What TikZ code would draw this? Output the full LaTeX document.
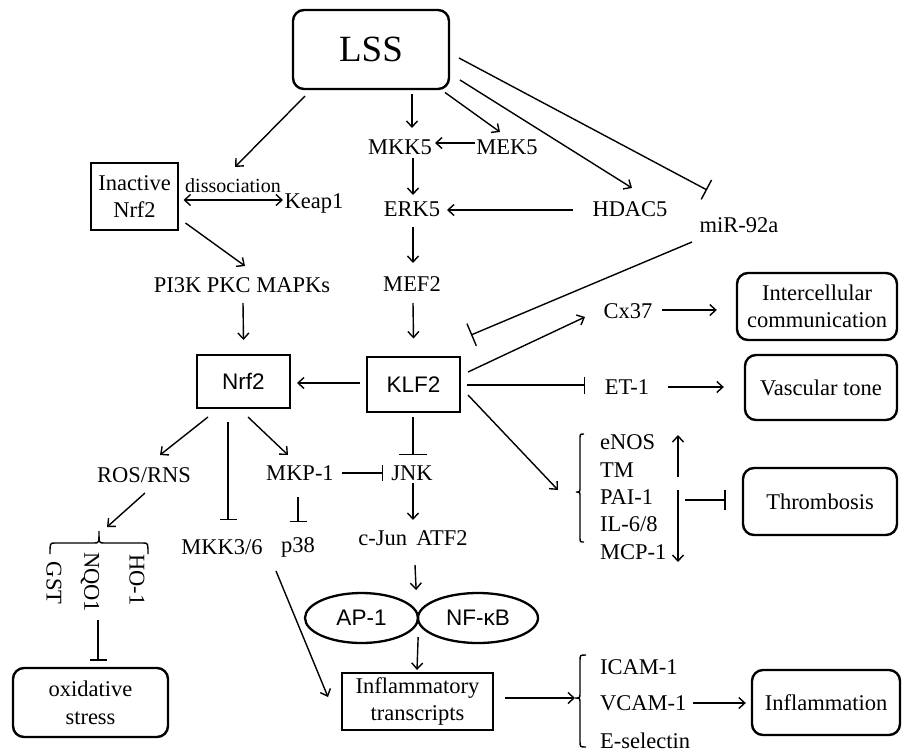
\documentclass[tikz,border=0pt]{standalone}
\usepackage{fontspec}
\setmainfont{Liberation Serif}
\newfontfamily\arialf{Liberation Sans}
\usetikzlibrary{arrows.meta,calc,shapes.geometric}
\begin{document}
\begin{tikzpicture}[x=1pt,y=-1pt,
  every node/.style={font=\fontsize{22.5}{27}\selectfont, inner sep=0pt},
  lbl/.style={inner sep=3pt},
  rbox/.style={draw, line width=2.4pt, rounded corners=11pt, align=center},
  sbox/.style={draw, line width=2.4pt, align=center},
  sans/.style={font=\arialf\fontsize{22.5}{27}\selectfont},
  ell/.style={draw, ellipse, line width=2.3pt, sans},
  ln/.style={line width=1.4pt},
  arr/.style={ln, -{Straight Barb[length=6pt,width=11pt]}},
  darr/.style={ln, {Straight Barb[length=6pt,width=11pt]}-{Straight Barb[length=6pt,width=11pt]}},
  bar/.style={ln, -{Bar[width=17pt]}},
]
\useasboundingbox (0,0) rectangle (902,753);

% ---- nodes ----
\node[rbox, minimum width=156pt, minimum height=79pt, font=\fontsize{37}{40}\selectfont] (lss) at (371,49.5) {LSS};
\node[lbl] (mkk5) at (400,147) {MKK5};
\node[lbl] (mek5) at (507,147) {MEK5};
\node[lbl] (erk5) at (412,209) {ERK5};
\node[lbl] (hdac5) at (630,209) {HDAC5};
\node[lbl] (mir) at (739,225) {miR-92a};
\node[lbl] (mef2) at (412,284) {MEF2};
\node[sbox, minimum width=87pt, minimum height=67pt] (inrf2) at (134.5,196.5) {Inactive\\Nrf2};
\node[lbl, font=\fontsize{20}{24}\selectfont] (dis) at (233,186) {dissociation};
\node[lbl] (keap1) at (314,203) {Keap1};
\node[lbl] (pi3k) at (242,285) {PI3K PKC MAPKs};
\node[sbox, sans, minimum width=93pt, minimum height=53pt] (nrf2) at (243.5,381.5) {Nrf2};
\node[sbox, sans, minimum width=93pt, minimum height=55pt] (klf2) at (413.5,384.5) {KLF2};
\node[lbl] (cx37) at (628,311) {Cx37};
\node[rbox, minimum width=160pt, minimum height=67pt] (inter) at (817,306.5) {Intercellular\\communication};
\node[lbl] (et1) at (627,387) {ET-1};
\node[rbox, minimum width=152pt, minimum height=65pt] (vasc) at (821,387.5) {Vascular tone};
\node[rbox, minimum width=154pt, minimum height=67pt] (thromb) at (820,501.5) {Thrombosis};
\node[lbl, anchor=west] (enos) at (597,442) {eNOS};
\node[lbl, anchor=west] (tm) at (597,470) {TM};
\node[lbl, anchor=west] (pai1) at (597,497) {PAI-1};
\node[lbl, anchor=west] (il68) at (597,524) {IL-6/8};
\node[lbl, anchor=west] (mcp1) at (597,552) {MCP-1};
\node[lbl] (ros) at (144,475) {ROS/RNS};
\node[lbl] (mkp1) at (300,473) {MKP-1};
\node[lbl] (jnk) at (412,473) {JNK};
\node[lbl] (mkk36) at (222,547) {MKK3/6};
\node[lbl] (p38) at (298,547) {p38};
\node[lbl] (cjun) at (413,538) {c-Jun\, ATF2};
\node[ell, minimum width=113pt, minimum height=50pt] (ap1) at (361.5,618) {AP-1};
\node[ell, minimum width=120pt, minimum height=50pt] (nfkb) at (478,618) {NF-κB};
\node[sbox, minimum width=151pt, minimum height=57pt] (infl) at (417.5,701.5) {Inflammatory\\transcripts};
\node[lbl, anchor=west] (icam) at (597,667) {ICAM-1};
\node[lbl, anchor=west] (vcam) at (597,703) {VCAM-1};
\node[lbl, anchor=west] (esel) at (597,741) {E-selectin};
\node[rbox, minimum width=148pt, minimum height=65pt] (inflam) at (826,702.5) {Inflammation};
\node[lbl, rotate=-90] (gst) at (54,583) {GST};
\node[lbl, rotate=-90] (nqo1) at (90,582) {NQO1};
\node[lbl, rotate=-90] (ho1) at (137,580) {HO-1};
\node[rbox, minimum width=155pt, minimum height=69pt, font=\fontsize{22.5}{28}\selectfont] (oxid) at (90.5,702.5) {oxidative\\stress};

\coordinate (b1) at (576,492);
\coordinate (b2) at (575,698);
\coordinate (b3) at (99,531);
\coordinate (ud) at (678,477);
\coordinate (dd) at (678,490);

% ---- connectors ----
\draw[arr] ($(lss)+(-66,46.5)$) -- ($(dis)+(2,-19)$);
\draw[arr] ($(lss)+(41,44)$) -- ($(mkk5)+(12,-19)$);
\draw[arr] ($(lss)+(74,43)$) -- ($(mek5)+(-7,-15)$);
\draw[arr] ($(lss)+(89,30.5)$) -- ($(hdac5)+(2,-21)$);
\draw[ln, -{Bar[width=22pt]}] ($(lss)+(88,8.5)$) -- ($(mir)+(-32,-35)$);
\draw[arr] ($(mek5)+(-32,-4)$) -- ($(mkk5)+(35,-4)$);
\draw[arr] ($(mkk5)+(13,11)$) -- ($(erk5)+(1,-14)$);
\draw[arr] ($(hdac5)+(-57,1)$) -- ($(erk5)+(35,1)$);
\draw[arr] ($(erk5)+(1,18)$) -- ($(mef2)+(1,-21)$);
\draw[arr] ($(mef2)+(1,19)$) -- ($(klf2)+(0,-46)$);
\draw[darr] ($(inrf2)+(49,3.5)$) -- ($(keap1)+(-31,-3)$);
\draw[arr] ($(inrf2)+(51,26.5)$) -- ($(pi3k)+(3,-19)$);
\draw[arr] ($(pi3k)+(1,18)$) -- ($(nrf2)+(0,-41.5)$);
\draw[arr] ($(klf2)+(-53.5,-1.5)$) -- ($(nrf2)+(53.5,1.5)$);
\draw[ln, -{Bar[width=24pt]}] ($(mir)+(-47,17)$) -- ($(klf2)+(57.5,-49.5)$);
\draw[arr] ($(klf2)+(54.5,-12.5)$) -- ($(cx37)+(-43,6)$);
\draw[arr] ($(cx37)+(34,-1)$) -- ($(inter.west)+(-19,3.5)$);
\draw[bar] ($(klf2)+(53.5,0.5)$) -- ($(et1)+(-42,-2)$);
\draw[arr] ($(et1)+(41,0)$) -- ($(vasc.west)+(-20,-0.5)$);
\draw[arr] ($(klf2)+(54.5,10.5)$) -- ($(b1)+(-18,-2)$);
\draw[arr] (ud) -- ($(ud |- enos)+(0,-7)$);
\draw[arr] (dd) -- ($(dd |- mcp1)+(0,10)$);
\draw[ln, -{Bar[width=20pt]}] ($(dd)+(7,10)$) -- ($(thromb.west)+(-16,-1.5)$);
\draw[arr] ($(nrf2)+(-35.5,35.5)$) -- ($(ros)+(16,-20)$);
\draw[bar] ($(nrf2)+(-15.5,40.5)$) -- ($(mkk36)+(6,-27)$);
\draw[arr] ($(nrf2)+(4.5,35.5)$) -- ($(mkp1)+(-12,-18)$);
\draw[ln, -{Bar[width=16pt]}] ($(mkp1)+(42,0)$) -- ($(jnk)+(-29,0)$);
\draw[ln, -{Bar[width=28pt]}] ($(klf2)+(-0.5,32.5)$) -- ($(jnk)+(1,-18)$);
\draw[bar] ($(mkp1)+(-2,24)$) -- ($(p38)+(0,-25)$);
\draw[arr] ($(jnk)+(1,10)$) -- ($(cjun)+(0,-18)$);
\draw[arr] ($(cjun)+(2,27)$) -- ($(ap1.east)+(-3,-28)$);
\draw[arr] ($(ap1.east)+(-1,19)$) -- ($(infl)+(-0.5,-31.5)$);
\draw[arr] ($(mkk36)+(54,24)$) -- ($(infl)+(-89.5,-4.5)$);
\draw[arr] ($(infl)+(87.5,-3.5)$) -- (b2);
\draw[arr] ($(vcam.east)+(3,0)$) -- ($(inflam.west)+(-5,0.5)$);
\draw[arr] ($(ros)+(1,18)$) -- ($(b3)+(8,-4)$);
\draw[bar] ($(nqo1)+(8,38)$) -- ($(oxid.north)+(7.5,-6)$);

% ---- brackets ----
\draw[ln] ($(b1)+(8,-58)$) .. controls ($(b1)+(4,-58)$) .. ($(b1)+(4,-53)$) -- ($(b1)+(4,-5)$) .. controls ($(b1)+(4,0)$) .. (b1) .. controls ($(b1)+(4,0)$) .. ($(b1)+(4,5)$) -- ($(b1)+(4,45)$) .. controls ($(b1)+(4,50)$) .. ($(b1)+(8,50)$);
\draw[ln] ($(b2)+(11,-43)$) .. controls ($(b2)+(5,-43)$) .. ($(b2)+(5,-37)$) -- ($(b2)+(5,-5)$) .. controls ($(b2)+(5,0)$) .. (b2) .. controls ($(b2)+(5,0)$) .. ($(b2)+(5,5)$) -- ($(b2)+(5,43)$) .. controls ($(b2)+(5,49)$) .. ($(b2)+(11,49)$);
\draw[ln] ($(b3)+(-49,23)$) .. controls ($(b3)+(-49,12)$) .. ($(b3)+(-44,12)$) -- ($(b3)+(-5,12)$) .. controls ($(b3)+(0,12)$) .. (b3) .. controls ($(b3)+(0,12)$) .. ($(b3)+(5,12)$) -- ($(b3)+(44,12)$) .. controls ($(b3)+(49,12)$) .. ($(b3)+(49,23)$);
\end{tikzpicture}
\end{document}
